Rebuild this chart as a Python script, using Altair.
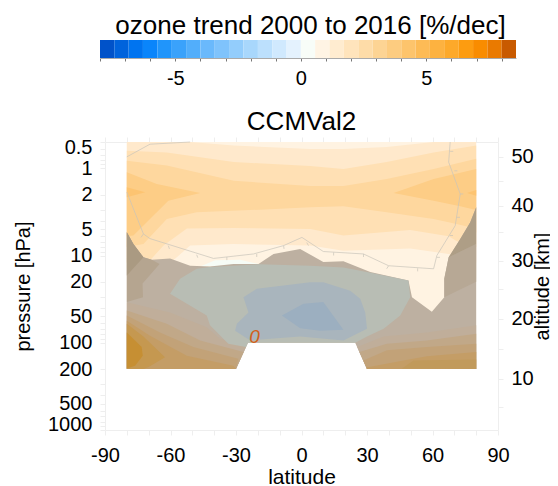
import altair as alt
import pandas as pd

FONT = "Liberation Sans"

# ---- colour bar
CB_EDGES = [-8, -7.43, -6.86, -6.29, -5.71, -5.14, -4.57, -4, -3.43, -2.86, -2.29, -1.71, -1.14, -0.57, 0,
            0.57, 1.14, 1.71, 2.29, 2.86, 3.43, 4, 4.57, 5.14, 5.71, 6.29, 6.86, 7.43, 8, 8.57]
CB_COLORS = ["#0052c9", "#0063dc", "#0074f0", "#0a85fb", "#2095fb", "#3aa2fb", "#52aefb", "#6ab9fc", "#7fc3fc",
             "#93cdfc", "#a8d7fc", "#bce0fd", "#d0e9fe", "#e4f2fe", "#f8fdf8", "#fff4e4", "#ffecd0", "#ffe4bc",
             "#fedca8", "#fdd494", "#fdcc80", "#fdc46c", "#fdbb56", "#fdb240", "#fda92a", "#fd9c10", "#f98c00",
             "#ea7a00", "#c85a00"]

# ---- axes
X_TICKS = [-90, -80, -70, -60, -50, -40, -30, -20, -10, 0, 10, 20, 30, 40, 50, 60, 70, 80, 90]
P_TICKS = [0.5, 0.6, 0.7, 0.8, 0.9, 1, 2, 3, 4, 5, 6, 7, 8, 9, 10, 20, 30, 40, 50, 60, 70, 80, 90,
           100, 200, 300, 400, 500, 600, 700, 800, 900, 1000]
P_LABELS = [0.5, 1, 2, 5, 10, 20, 50, 100, 200, 500, 1000]
ALT_P = [0.74, 1.4, 2.7, 5.37, 11.5, 24.1, 53, 117, 259, 542]
ALT_KM = ["50", "", "40", "", "30", "", "20", "", "10", ""]

# ---- filled contour regions (latitude, pressure)
S_lat = [-80, 80, 80, 30, 24.6, -24.5, -30, -80]
S_p = [0.5, 0.5, 200, 200, 100, 100, 200, 200]
L1_lat = [-80, -51, -31, 4, 19, 39, 60.5, 80, 80, 67.4, 49.8, 19.2, 4, -31.2, -51, -57.9, -65, -80]
L1_p = [0.5, 0.5, 0.55, 0.6, 0.6, 0.57, 0.5, 0.5, 12, 9.6, 8.3, 8.8, 7.7, 7.37, 7.7, 10.9, 14, 14]
L2_lat = [-80, -61.7, -31, 4, 19.2, 39, 60.5, 80, 80, 71, 67.4, 49.8, 19.2, 4, -31.2, -52.5, -63.2, -68.6, -72, -80]
L2_p = [0.63, 0.66, 0.85, 0.94, 1.02, 0.85, 0.66, 0.55, 8, 6.8, 6, 5.1, 5.9, 4.96, 4.85, 4.9, 7.7, 10.8, 12, 12]
L3_lat = [-80, -61.7, -31, 4, 19.2, 39, 60.5, 80, 80, 77.3, 71, 60.5, 39, 19.2, 4, -19, -48, -61.7, -72.4, -80]
L3_p = [0.82, 0.93, 1.39, 1.6, 1.6, 1.33, 1.02, 0.78, 5.5, 4.75, 4.35, 3.81, 3.2, 2.73, 2.8, 2.98, 3.2, 3.81, 7.37, 8]
L4A_lat = [-80, -66.3, -46.4, -61, -69.4, -77, -80]
L4A_p = [1.11, 1.51, 1.92, 2.35, 3.81, 5.9, 6]
L4B_lat = [42.2, 60.5, 80, 80, 72.7, 60.5]
L4B_p = [1.92, 1.33, 1.02, 3, 2.73, 2.35]
L5A_lat = [-80, -71.6, -80]
L5A_p = [1.65, 1.88, 2.15]
L5B_lat = [75.8, 80, 80]
L5B_p = [1.92, 1.77, 2.06]
W_lat = [-46.4, -39.6, -28.1, -19.7, -30]
W_p = [13.4, 11.3, 11.2, 12.5, 13]
G_lat = [-80, -77, -72.4, -68.6, -60.2, -51, -41.9, -31.2, -19.7, -12.8, -0.6, 10, 19.2, 31.5, 49, 50.6, 59.7,
         65.4, 65.4, 67.4, 72.7, 77.3, 80, 80, 30, 24.6, -24.5, -30, -80]
G_p = [5.42, 7.37, 10.5, 11.2, 10.8, 13.1, 13.4, 12.5, 12.5, 9.6, 8.4, 11.9, 11.6, 15.5, 19.4, 30, 44,
       30, 18.5, 10.5, 6.46, 4.16, 2.8, 200, 200, 100, 100, 200, 200]
G2A_lat = [-80, -77, -72.4, -68.6, -65, -72.8, -72.6, -80]
G2A_p = [5.42, 7.37, 10.5, 11.2, 12.5, 21, 30, 34]
G1A_lat = [-80, -77, -72.4, -80]
G1A_p = [5.42, 7.37, 10.5, 17]
G2B_lat = [67.4, 65.4, 65.4, 80, 80]
G2B_p = [10.5, 18.5, 30, 20, 7.37]
G1B_lat = [80, 77.3, 72.7, 67.4, 80]
G1B_p = [2.8, 4.16, 6.46, 10.5, 7.37]
AL_lat = [-80, -60.2, -43.4, -37.3, -25.4, -30, -80]
AL_p = [34.3, 45, 66.3, 90, 112, 200, 200]
BL_lat = [-80, -61.7, -46.4, -26.5, -30, -80]
BL_p = [42.8, 60.7, 94, 128, 200, 200]
CL_lat = [-80, -64.8, -49.5, -28.9, -30, -80]
CL_p = [48.8, 76.5, 112, 153, 200, 200]
DL_lat = [-80, -69.4, -52.5, -31.2, -30, -80]
DL_p = [55.9, 83, 141, 184, 200, 200]
EL_lat = [-80, -72.4, -62.5, -70, -72.4, -80]
EL_p = [60.7, 85, 147, 190, 200, 200]
FL_lat = [-80, -73.2, -72.7, -76.2, -79.3, -80]
FL_p = [76.5, 112, 141, 184, 195, 195]
AR_lat = [25.5, 37.6, 57.4, 80, 80, 30]
AR_p = [112, 85, 76.5, 63, 200, 200]
BR_lat = [26.5, 39.1, 57.4, 80, 80, 30]
BR_p = [128, 103, 94, 79, 200, 200]
CR_lat = [28.3, 39.1, 57.4, 80, 80, 30]
CR_p = [160, 122, 112, 103, 200, 200]
DR_lat = [29.7, 46.7, 57.4, 80, 80, 30]
DR_p = [192, 160, 143, 128, 200, 200]
ER_lat = [46, 51.3, 80, 80]
ER_p = [197, 160, 156, 200]
G4_lat = [-60.2, -55.6, -48, -41.9, -19.7, 4, 19.2, 32.2, 49, 49.8, 45.2, 37.6, 30, 24.6, -24.5, -25.4, -33.5, -41.9, -43.4]
G4_p = [27.5, 18.5, 14.2, 13.5, 12.6, 13.1, 13.7, 15.9, 19.4, 30, 48.8, 69.2, 85, 100, 100, 112, 103, 63, 48.8]
G5_lat = [-26.6, -20.5, 4, 10, 22.3, 26.9, 29.2, 30, 19.2, -0.6, -23.5, -30.4, -29.6, -24.3]
G5_p = [30, 24.1, 20.3, 20.3, 25.4, 31.4, 45, 69, 94, 85, 94, 72.7, 60.7, 45]
G6_lat = [-9, 0.9, 10, 19.2, 8.6, -0.6]
G6_p = [48.8, 35.8, 34, 71, 73, 68]

REGIONS = [
    (S_lat, S_p, "#fff3e2"), (L1_lat, L1_p, "#ffe9cc"), (L2_lat, L2_p, "#ffe0b4"), (L3_lat, L3_p, "#fed79e"),
    (L4A_lat, L4A_p, "#fdcd86"), (L4B_lat, L4B_p, "#fdcd86"), (L5A_lat, L5A_p, "#fdc471"), (L5B_lat, L5B_p, "#fdc471"),
    (W_lat, W_p, "#f6fcf6"), (G_lat, G_p, "#bdb0a1"), (G2A_lat, G2A_p, "#b5a590"), (G1A_lat, G1A_p, "#aa9a82"),
    (G2B_lat, G2B_p, "#b7a895"), (G1B_lat, G1B_p, "#ae9e86"),
    (AL_lat, AL_p, "#c0ae9a"), (AR_lat, AR_p, "#c0ae9a"), (BL_lat, BL_p, "#c1a888"), (BR_lat, BR_p, "#c1a888"),
    (CL_lat, CL_p, "#c2a278"), (CR_lat, CR_p, "#c2a278"), (DL_lat, DL_p, "#c49d66"), (DR_lat, DR_p, "#c49d66"),
    (EL_lat, EL_p, "#c59850"), (ER_lat, ER_p, "#c19a5b"), (FL_lat, FL_p, "#c68f33"),
    (G4_lat, G4_p, "#b8bdb4"), (G5_lat, G5_p, "#a9b5bd"), (G6_lat, G6_p, "#9cafc0"),
]

# ---- significance contour and its small ticks
SIG1_lat = [-80, -69.4, -51]
SIG1_p = [0.74, 0.53, 0.5]
SIG2_lat = [-80, -72.4, -69.4, -40.3, -22, -8.2, 0.2, 10, 28.4, 39.9, 60.5, 62, 70.4, 72.7, 67.4, 68.1]
SIG2_p = [1.88, 5.66, 6.4, 10.8, 9.6, 7.7, 6.2, 9, 9.6, 13.1, 14.2, 10, 4.55, 1.97, 0.85, 0.5]
TICK_LAT = [-72.4, -61, -48, -34.2, -20.5, -8.2, 2.4, 14.7, 28.4, 39.9, 53.2, 62, 68, 71.2, 72.7, 70, 68.1]
TICK_P = [5.66, 7.7, 9.8, 10.4, 9.6, 7.7, 7.1, 9.2, 9.6, 13.1, 14, 10.5, 5.9, 3.65, 1.97, 1.07, 0.64]
TICK_LAT2 = [-73.5, -60.5, -47.5, -34.2, -20.5, -8, 3.2, 14.7, 28.4, 39, 53.2, 63.4, 69.4, 72.6, 74.1, 71.4, 69.5]
TICK_P2 = [6.2, 8.4, 10.6, 11.3, 10.4, 8.4, 7.7, 10, 10.4, 14.2, 15.2, 10.5, 5.9, 3.65, 1.97, 1.07, 0.64]

ZERO_LAT = [-21.5]
ZERO_P = [85]
ZERO_TEXT = ["0"]

xs = alt.Scale(domain=[-90, 90], range=[0, 393], nice=False)
ys = alt.Scale(type="log", domain=[1000, 0.5], range=[288, 0], nice=False)
LIGHT = "#eeeeee"
SIG_COLOR = "#c9c4ba"

def poly(lats, ps, color):
    d = pd.DataFrame({"lat": lats, "p": ps, "i": range(len(lats))})
    return alt.Chart(d).mark_line(interpolate="linear-closed", fill=color, strokeWidth=0, stroke=color).encode(
        x=alt.X("lat:Q", scale=xs, axis=None),
        y=alt.Y("p:Q", scale=ys, axis=None),
        order="i:Q",
    )

def sigline(lats, ps):
    d = pd.DataFrame({"lat": lats, "p": ps, "i": range(len(lats))})
    return alt.Chart(d).mark_line(color=SIG_COLOR, strokeWidth=0.7).encode(
        x=alt.X("lat:Q", scale=xs, axis=None),
        y=alt.Y("p:Q", scale=ys, axis=None),
        order="i:Q",
    )

sig_ticks = alt.Chart(pd.DataFrame({"a": TICK_LAT, "b": TICK_P, "a2": TICK_LAT2, "b2": TICK_P2})).mark_rule(
    color=SIG_COLOR, strokeWidth=0.7).encode(
    x=alt.X("a:Q", scale=xs, axis=None), x2="a2:Q",
    y=alt.Y("b:Q", scale=ys, axis=None), y2="b2:Q",
)

axis_common = dict(domainColor=LIGHT, tickColor=LIGHT, tickSize=5, grid=False, labelFont=FONT, titleFont=FONT,
                   labelFontSize=20, titleFontSize=20, titleFontWeight="normal", labelColor="black",
                   titleColor="black", labelOverlap=False)

p_expr = "indexof(" + str(P_LABELS) + ", datum.value) >= 0 ? '' + datum.value : ''"
x_expr = "datum.value % 30 == 0 ? '' + datum.value : ''"
alt_expr = "{" + ", ".join(f"'{p}': '{k}'" for p, k in zip(ALT_P, ALT_KM)) + "}[datum.value]"

ax_df = pd.DataFrame({"lat": [-90, 90], "p": [1000, 0.5]})
x_axis_opts = dict(axis_common, titleFontSize=21)
axes_a = alt.Chart(ax_df).mark_point(opacity=0).encode(
    x=alt.X("lat:Q", scale=xs, title="latitude", axis=alt.Axis(values=X_TICKS, labelExpr=x_expr, orient="bottom",
            labelPadding=10, titlePadding=1, labelFlush=False, **x_axis_opts)),
    y=alt.Y("p:Q", scale=ys, title="pressure [hPa]", axis=alt.Axis(values=P_TICKS, labelExpr=p_expr, orient="left",
            labelPadding=8, labelFlush=True, labelFlushOffset=4.5, titlePadding=14, **axis_common)),
)
axes_b = alt.Chart(ax_df).mark_point(opacity=0).encode(
    x=alt.X("lat:Q", scale=xs, title=None, axis=alt.Axis(values=X_TICKS, labels=False, orient="top",
            **{k: v for k, v in axis_common.items() if k.startswith(("domain", "tick", "grid"))})),
    y=alt.Y("p:Q", scale=ys, title="altitude [km]", axis=alt.Axis(values=ALT_P, labelExpr=alt_expr, orient="right",
            labelPadding=8, titlePadding=-1, titleAngle=270, titleBaseline="top", **axis_common)),
)

zero = alt.Chart(pd.DataFrame({"lat": ZERO_LAT, "p": ZERO_P, "t": ZERO_TEXT})).mark_text(
    font=FONT, fontSize=19, fontStyle="italic", color="#d2601a").encode(
    x=alt.X("lat:Q", scale=xs, axis=None), y=alt.Y("p:Q", scale=ys, axis=None), text="t:N")

layers = [poly(*r) for r in REGIONS] + [sigline(SIG1_lat, SIG1_p), sigline(SIG2_lat, SIG2_p), sig_ticks, zero, axes_a, axes_b]
main = alt.layer(*layers).resolve_axis(x="independent", y="independent").properties(
    width=393, height=288,
    title=alt.TitleParams("CCMVal2", font=FONT, fontSize=26, fontWeight="normal", anchor="middle", offset=2, color="black"))

cb_df = pd.DataFrame({"lo": CB_EDGES[:-1], "hi": CB_EDGES[1:], "c": CB_COLORS})
cbx = alt.Scale(domain=[-8, 8.57], range=[-5, 411], nice=False)
cbar = alt.Chart(cb_df).mark_rect().encode(
    x=alt.X("lo:Q", scale=cbx, title=None, axis=alt.Axis(values=list(range(-8, 9)),
            labelExpr="indexof([-5, 0, 5], datum.value) >= 0 ? '' + datum.value : ''",
            tickColor="#777777", domainColor="#aaaaaa", tickSize=3, grid=False, labelFont=FONT, labelFontSize=20,
            labelColor="black", labelPadding=7, labelOverlap=False, labelFlush=False)),
    x2="hi:Q",
    color=alt.Color("c:N", scale=None),
).properties(width=411, height=18,
    title=alt.TitleParams("ozone trend 2000 to 2016 [%/dec]", font=FONT, fontSize=26, fontWeight="normal",
                          anchor="middle", offset=1, color="black"))

chart = alt.vconcat(cbar, main, spacing=84, bounds="flush").properties(
    padding={"left": 5, "top": 5, "right": -3, "bottom": 0}
).configure_view(stroke=None)

chart.save("out.html", embed_options={"renderer": "svg", "actions": False})
